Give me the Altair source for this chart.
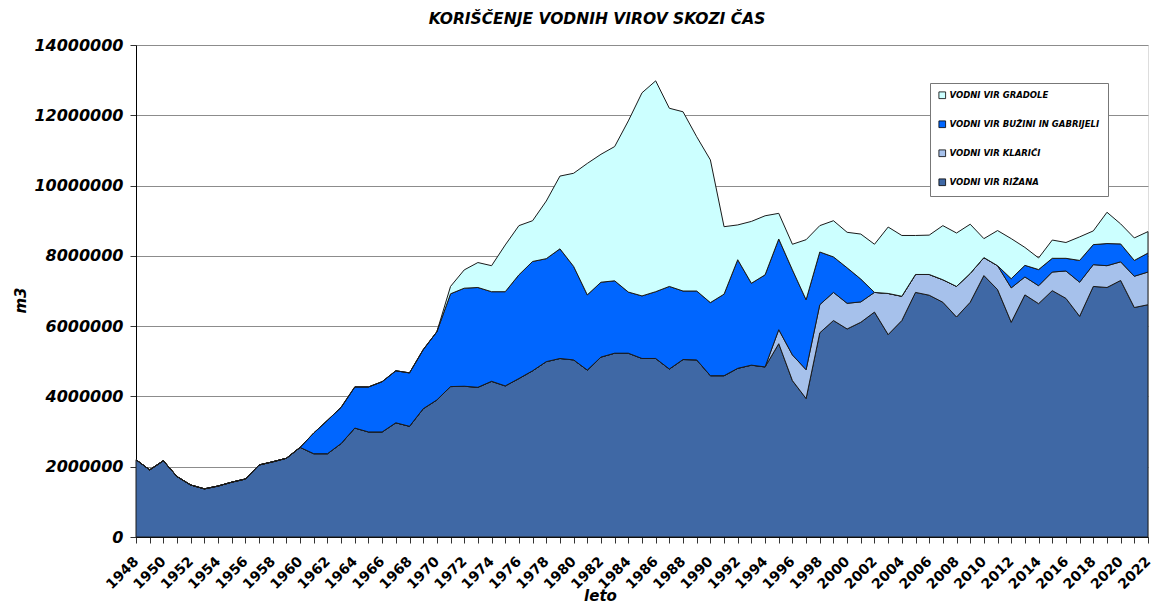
import altair as alt
import pandas as pd

years = list(range(1948, 2023))

rizana = [
    2200000, 1910000, 2170000, 1720000, 1480000, 1370000, 1450000, 1560000, 1650000, 2050000,
    2140000, 2240000, 2550000, 2370000, 2370000, 2660000, 3100000, 2990000, 2990000, 3250000,
    3150000, 3650000, 3900000, 4280000, 4290000, 4260000, 4430000, 4300000, 4510000, 4730000,
    4990000, 5080000, 5040000, 4750000, 5120000, 5230000, 5230000, 5080000, 5080000, 4780000,
    5050000, 5040000, 4590000, 4590000, 4800000, 4890000, 4840000, 5500000, 4450000, 3940000,
    5810000, 6160000, 5920000, 6110000, 6400000, 5760000, 6160000, 6960000, 6880000, 6680000,
    6260000, 6680000, 7440000, 7040000, 6110000, 6890000, 6640000, 7010000, 6790000, 6280000,
    7130000, 7100000, 7300000, 6530000, 6610000,
]

klarici = [0] * 47 + [
    400000, 730000, 820000, 800000, 800000, 730000, 580000, 560000, 1170000, 690000,
    510000, 590000, 640000, 870000, 820000, 510000, 680000, 980000, 510000, 510000,
    530000, 780000, 970000, 620000, 620000, 530000, 890000, 930000,
]

buzini = [0] * 13 + [
    590000, 950000, 1030000, 1170000, 1280000, 1430000, 1480000, 1520000, 1680000, 1940000,
    2640000, 2790000, 2840000, 2550000, 2680000, 2950000, 3110000, 2930000, 3120000, 2660000,
    2140000, 2130000, 2060000, 1740000, 1780000, 1900000, 2350000, 1950000, 1960000, 2080000,
    2320000, 3090000, 2330000, 2620000, 2580000, 2420000, 1990000, 1500000, 1010000, 1010000,
    650000, 0, 0, 0, 0, 0, 0, 0, 0, 0,
    0, 260000, 330000, 460000, 390000, 360000, 620000, 570000, 630000, 510000,
    450000, 540000,
]

gradole = [0] * 23 + [
    210000, 520000, 710000, 740000, 1330000, 1400000, 1160000, 1640000, 2070000, 2650000,
    3740000, 3640000, 3820000, 4870000, 5780000, 6000000, 5070000, 5100000, 4390000, 4060000,
    1920000, 990000, 1760000, 1680000, 730000, 730000, 1710000, 750000, 1030000, 1010000,
    1280000, 1370000, 1890000, 1730000, 1110000, 1120000, 1540000, 1520000, 1400000, 540000,
    1000000, 1140000, 510000, 330000, 520000, 450000, 670000, 390000, 890000, 570000,
    640000, 610000,
]

series_names = [
    "VODNI VIR RIŽANA",
    "VODNI VIR KLARIČI",
    "VODNI VIR BUŽINI IN GABRIJELI",
    "VODNI VIR GRADOLE",
]
series_values = [rizana, klarici, buzini, gradole]
series_colors = ["#3F68A5", "#A6C1EB", "#0066FF", "#CCFFFF"]

rows = []
for idx, (name, vals) in enumerate(zip(series_names, series_values)):
    for y, v in zip(years, vals):
        rows.append({"leto": y, "m3": v, "vir": name, "red": idx})
df = pd.DataFrame(rows)

legend_order = list(reversed(series_names))
legend_colors = list(reversed(series_colors))

FONT = "DejaVu Sans"

chart = (
    alt.Chart(df)
    .mark_area(stroke="#1a1a1a", strokeWidth=1, strokeJoin="miter")
    .encode(
        x=alt.X(
            "leto:Q",
            scale=alt.Scale(domain=[1948, 2022], nice=False, zero=False),
            axis=alt.Axis(
                title="leto",
                values=years,
                labelExpr="datum.value % 2 == 0 ? datum.value : ''",
                labelAngle=-45,
                labelAlign="right",
                labelBaseline="middle",
                labelFont=FONT,
                labelFontSize=14,
                labelFontWeight="bold",
                labelColor="#000000",
                labelPadding=16,
                labelOverlap=False,
                labelFlush=False,
                labelBound=False,
                tickSize=6,
                tickColor="#333333",
                domainColor="#000000",
                grid=False,
                titleFont=FONT,
                titleFontSize=15,
                titleFontWeight="bold",
                titleFontStyle="italic",
                titleColor="#000000",
                titleX=464,
                titleY=63,
                titleBaseline="alphabetic",
            ),
        ),
        y=alt.Y(
            "m3:Q",
            stack="zero",
            scale=alt.Scale(domain=[0, 14000000], nice=False),
            axis=alt.Axis(
                title="m3",
                values=[0, 2000000, 4000000, 6000000, 8000000, 10000000, 12000000, 14000000],
                format="d",
                labelFont=FONT,
                labelFontSize=16,
                labelFontWeight="bold",
                labelFontStyle="italic",
                labelColor="#000000",
                labelPadding=7,
                tickSize=6,
                tickColor="#333333",
                domainColor="#000000",
                gridColor="#8c8c8c",
                gridWidth=1,
                titleFont=FONT,
                titleFontSize=15,
                titleFontWeight="bold",
                titleFontStyle="italic",
                titleColor="#000000",
                titleX=-116,
                titleY=255,
                titleAngle=270,
                titleBaseline="middle",
            ),
        ),
        color=alt.Color(
            "vir:N",
            scale=alt.Scale(domain=legend_order, range=legend_colors),
            legend=alt.Legend(
                title=None,
                orient="none",
                legendX=794,
                legendY=38,
                symbolType="square",
                symbolSize=45,
                symbolStrokeColor="#000000",
                symbolStrokeWidth=0.8,
                labelFont=FONT,
                labelFontSize=8.5,
                labelFontWeight="bold",
                labelFontStyle="italic",
                labelColor="#000000",
                labelOffset=3,
                rowPadding=18,
                padding=8,
                fillColor="#ffffff",
                strokeColor="#777777",
                labelLimit=300,
            ),
        ),
        order=alt.Order("red:Q", sort="ascending"),
    )
    .properties(
        width=1012,
        height=492,
        title=alt.TitleParams(
            "KORIŠČENJE VODNIH VIROV SKOZI ČAS",
            font=FONT,
            fontSize=15.5,
            fontWeight="bold",
            fontStyle="italic",
            color="#000000",
            anchor="middle",
            dx=-45,
            offset=10,
        ),
        autosize=alt.AutoSizeParams(type="none"),
        padding={"left": 128, "top": 37, "right": 6, "bottom": 69},
    )
    .configure_view(stroke="#bbbbbb", strokeWidth=1)
    .configure(background="#ffffff")
)

chart.save("out.html", embed_options={"renderer": "svg", "actions": False})
